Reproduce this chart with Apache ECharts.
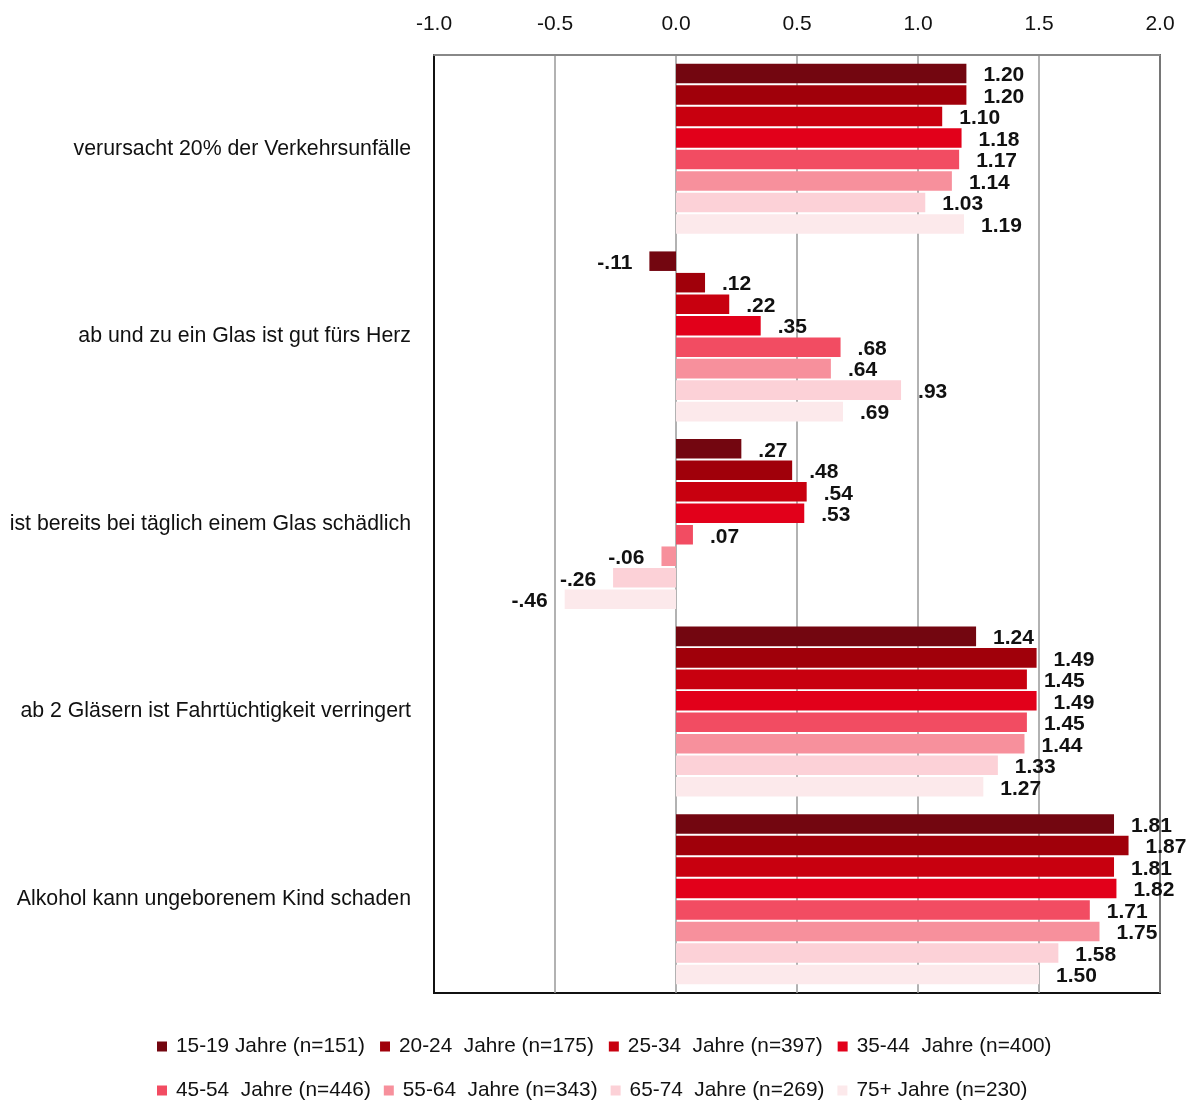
<!DOCTYPE html>
<html>
<head>
<meta charset="utf-8">
<script src="https://cdn.jsdelivr.net/npm/echarts@6/dist/echarts.min.js"></script>
<style>html,body{margin:0;padding:0;background:#fff;}#c{width:1193px;height:1103px;}</style>
</head>
<body>
<div id="c"></div>
<script>
var categories = [
  'verursacht 20% der Verkehrsunfälle',
  'ab und zu ein Glas ist gut fürs Herz',
  'ist bereits bei täglich einem Glas schädlich',
  'ab 2 Gläsern ist Fahrtüchtigkeit verringert',
  'Alkohol kann ungeborenem Kind schaden'
];
var seriesNames = [
  '15-19 Jahre (n=151)',
  '20-24  Jahre (n=175)',
  '25-34  Jahre (n=397)',
  '35-44  Jahre (n=400)',
  '45-54  Jahre (n=446)',
  '55-64  Jahre (n=343)',
  '65-74  Jahre (n=269)',
  '75+ Jahre (n=230)'
];
var colors = ['#730610','#A0000A','#C8000F','#E2001A','#F24C62','#F7909C','#FCD1D7','#FCE9EB'];
var age15_19 = [1.20, -0.11, 0.27, 1.24, 1.81];
var age20_24 = [1.20, 0.12, 0.48, 1.49, 1.87];
var age25_34 = [1.10, 0.22, 0.54, 1.45, 1.81];
var age35_44 = [1.18, 0.35, 0.53, 1.49, 1.82];
var age45_54 = [1.17, 0.68, 0.07, 1.45, 1.71];
var age55_64 = [1.14, 0.64, -0.06, 1.44, 1.75];
var age65_74 = [1.03, 0.93, -0.26, 1.33, 1.58];
var age75plus = [1.19, 0.69, -0.46, 1.27, 1.50];
var seriesValues = [age15_19, age20_24, age25_34, age35_44, age45_54, age55_64, age65_74, age75plus];
var xTickLabels = {'-1': '-1.0', '-0.5': '-0.5', '0': '0.0', '0.5': '0.5', '1': '1.0', '1.5': '1.5', '2': '2.0'};

var FONT = '"Liberation Sans Narrow", "Liberation Sans", Arial, sans-serif';

function fmt(v) {
  var s = Math.abs(v).toFixed(2).replace(/^0\./, '.');
  return (v < 0 ? '-' : '') + s;
}

var series = seriesValues.map(function (vals, i) {
  return {
    name: seriesNames[i],
    type: 'bar',
    xAxisIndex: 0,
    barGap: '10%',
    barCategoryGap: '9.4%',
    itemStyle: { color: colors[i] },
    data: vals.map(function (v) {
      return {
        value: v,
        label: { position: v < 0 ? 'left' : 'right' }
      };
    }),
    label: {
      show: true,
      distance: 17,
      offset: [0, 2],
      formatter: function (p) { return fmt(p.value); },
      fontFamily: FONT,
      fontWeight: 'bold',
      fontSize: 21,
      color: '#111'
    }
  };
});

var legendText = { fontFamily: FONT, fontSize: 20.8, color: '#111', padding: [0, 0, 0, 4] };

var chart = echarts.init(document.getElementById('c'), null, { renderer: 'canvas' });
chart.setOption({
  animation: false,
  backgroundColor: '#fff',
  grid: {
    left: 434, right: 33, top: 55, bottom: 110,
    show: true, borderColor: '#111', borderWidth: 2, backgroundColor: 'transparent'
  },
  legend: [
    {
      data: seriesNames.slice(0, 4),
      left: 157, top: 1036, padding: 0,
      itemWidth: 10, itemHeight: 10, itemGap: 15, icon: 'rect',
      textStyle: legendText
    },
    {
      data: seriesNames.slice(4),
      left: 157, top: 1080, padding: 0,
      itemWidth: 10, itemHeight: 10, itemGap: 13, icon: 'rect',
      textStyle: legendText
    }
  ],
  xAxis: [
    {
      type: 'value', position: 'top', min: -1, max: 2, interval: 0.5,
      axisLine: { show: true, lineStyle: { color: '#888', width: 2 } },
      axisTick: { show: false },
      splitLine: { show: true, lineStyle: { color: '#999', width: 1.5 } },
      axisLabel: {
        margin: 20, fontFamily: FONT, fontSize: 21, color: '#111',
        formatter: function (v) { return xTickLabels[String(v)] || v.toFixed(1); }
      }
    }
  ],
  yAxis: {
    type: 'category', data: categories, inverse: true,
    axisLine: { show: true, onZero: false, lineStyle: { color: '#111', width: 2 } },
    axisTick: { show: false },
    axisLabel: { margin: 23, fontFamily: FONT, fontSize: 21.3, color: '#111' }
  },
  series: series
});
</script>
</body>
</html>
